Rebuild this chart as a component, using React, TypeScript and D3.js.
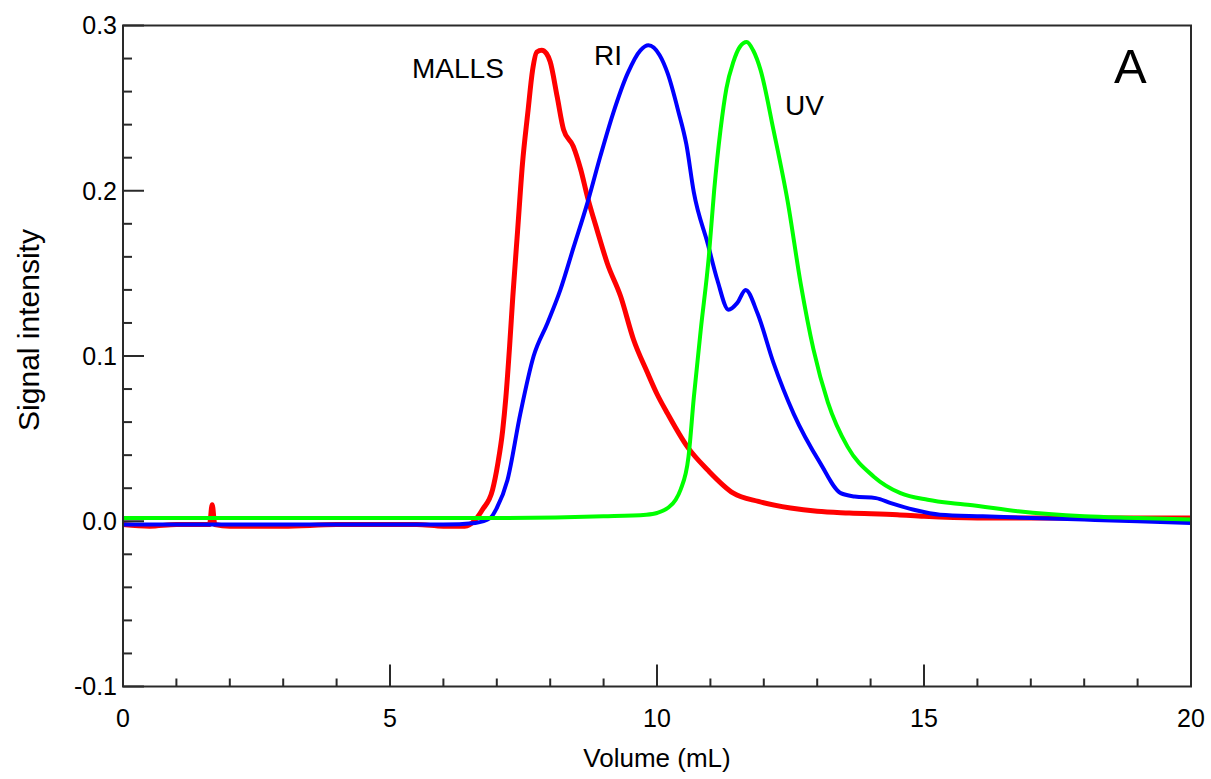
import React from "react";
import * as d3 from "d3";

// ---- data ----
const mallsX = [0, 0.5, 1.0, 1.5, 1.62, 1.67, 1.72, 2.0, 3.0, 4.0, 5.0, 5.5, 6.0, 6.4, 6.6, 6.73, 6.92, 7.02, 7.11, 7.17, 7.24, 7.3, 7.39, 7.48, 7.58, 7.67, 7.75, 7.84, 7.93, 8.0, 8.13, 8.25, 8.43, 8.57, 8.7, 8.88, 9.07, 9.32, 9.56, 9.82, 10.0, 10.2, 10.57, 10.95, 11.43, 11.9, 12.5, 13.0, 13.6, 14.5, 15.0, 16, 17, 18, 19, 20];
const mallsY = [-0.002, -0.003, -0.002, -0.002, -0.002, 0.010, -0.002, -0.003, -0.003, -0.002, -0.002, -0.002, -0.003, -0.003, 0.001, 0.007, 0.019, 0.035, 0.055, 0.075, 0.106, 0.136, 0.176, 0.216, 0.247, 0.273, 0.284, 0.285, 0.283, 0.278, 0.257, 0.237, 0.227, 0.213, 0.196, 0.176, 0.156, 0.136, 0.110, 0.090, 0.077, 0.065, 0.045, 0.031, 0.017, 0.012, 0.008, 0.006, 0.005, 0.004, 0.003, 0.002, 0.002, 0.002, 0.002, 0.002];

const riX = [0, 2, 4, 6, 6.6, 6.88, 7.0, 7.2, 7.44, 7.69, 7.95, 8.19, 8.44, 8.7, 8.94, 9.18, 9.45, 9.69, 9.84, 10.05, 10.2, 10.4, 10.55, 10.69, 10.95, 11.13, 11.34, 11.5, 11.66, 11.88, 12.18, 12.56, 13.06, 13.44, 13.7, 14.1, 14.38, 14.81, 15.3, 16.1, 17, 18, 19, 20];
const riY = [-0.002, -0.002, -0.002, -0.002, -0.001, 0.002, 0.008, 0.025, 0.065, 0.100, 0.120, 0.140, 0.166, 0.193, 0.221, 0.247, 0.271, 0.285, 0.288, 0.282, 0.271, 0.248, 0.228, 0.199, 0.168, 0.146, 0.128, 0.132, 0.140, 0.126, 0.096, 0.065, 0.035, 0.017, 0.015, 0.014, 0.011, 0.007, 0.004, 0.003, 0.002, 0.001, 0.000, -0.001];

const uvX = [0, 5, 7, 9, 9.8, 10.0, 10.2, 10.35, 10.44, 10.59, 10.69, 10.82, 10.97, 11.07, 11.19, 11.3, 11.43, 11.55, 11.68, 11.8, 11.94, 12.18, 12.45, 12.69, 12.93, 13.2, 13.57, 14.06, 14.56, 15.07, 15.5, 15.82, 16.76, 18.0, 19, 20];
const uvY = [0.002, 0.002, 0.002, 0.003, 0.004, 0.005, 0.008, 0.013, 0.019, 0.039, 0.075, 0.116, 0.160, 0.200, 0.237, 0.262, 0.278, 0.287, 0.290, 0.285, 0.273, 0.237, 0.193, 0.144, 0.104, 0.072, 0.045, 0.027, 0.017, 0.013, 0.011, 0.010, 0.006, 0.003, 0.002, 0.001];

const xMajorTicks = [0, 5, 10, 15, 20];
const yMajorTicks = [-0.1, 0.0, 0.1, 0.2, 0.3];
const yTickLabels = ["-0.1", "0.0", "0.1", "0.2", "0.3"];

const seriesNames = ["MALLS", "RI", "UV"];
const panelLabel = "A";
const xTitle = "Volume (mL)";
const yTitle = "Signal intensity";

export default function App() {
  const W = 1211, H = 779;
  const left = 123, right = 1191, top = 25.5, bottom = 686.5;
  const x = d3.scaleLinear().domain([0, 20]).range([left, right]);
  const y = d3.scaleLinear().domain([-0.1, 0.3]).range([bottom, top]);
  const line = d3
    .line<[number, number]>()
    .x((d) => x(d[0]))
    .y((d) => y(d[1]))
    .curve(d3.curveMonotoneX);

  const pts = (xs: number[], ys: number[]) => xs.map((v, i) => [v, ys[i]] as [number, number]);

  const xMinor = d3.range(0, 21, 1).filter((v) => v % 5 !== 0);
  const yMinor = d3.range(-5, 16, 1).map((k) => k * 0.02).filter((v) => Math.abs(Math.round(v * 10) - v * 10) > 1e-6);

  const font = "'Liberation Sans', Arial, sans-serif";
  const axisColor = "#2a2a2a";

  return (
    <svg width={W} height={H} style={{ position: "fixed", left: 0, top: 0, background: "#fff" }} fontFamily={font}>
      <rect x={0} y={0} width={W} height={H} fill="#fff" />
      <g>
        <path d={line(pts(mallsX, mallsY)) || ""} fill="none" stroke="#ff0000" strokeWidth={5} strokeLinejoin="round" />
        <path d={line(pts(riX, riY)) || ""} fill="none" stroke="#0000ff" strokeWidth={4} strokeLinejoin="round" />
        <path d={line(pts(uvX, uvY)) || ""} fill="none" stroke="#00ff00" strokeWidth={4} strokeLinejoin="round" />
      </g>
      {/* frame */}
      <rect x={left} y={top} width={right - left} height={bottom - top} fill="none" stroke={axisColor} strokeWidth={2} />
      {/* x ticks */}
      {xMajorTicks.map((v) => (
        <g key={"xM" + v}>
          <line x1={x(v)} x2={x(v)} y1={bottom} y2={bottom - 22} stroke={axisColor} strokeWidth={2} />
          <text x={x(v)} y={727} textAnchor="middle" fontSize={25} fill="#000">{v}</text>
        </g>
      ))}
      {xMinor.map((v) => (
        <line key={"xm" + v} x1={x(v)} x2={x(v)} y1={bottom} y2={bottom - 8} stroke={axisColor} strokeWidth={2} />
      ))}
      {/* y ticks */}
      {yMajorTicks.map((v, i) => (
        <g key={"yM" + v}>
          <line x1={left} x2={left + 21} y1={y(v)} y2={y(v)} stroke={axisColor} strokeWidth={2} />
          <text x={117} y={y(v)} dy="0.35em" textAnchor="end" fontSize={25} fill="#000">{yTickLabels[i]}</text>
        </g>
      ))}
      {yMinor.map((v) => (
        <line key={"ym" + v} x1={left} x2={left + 9} y1={y(v)} y2={y(v)} stroke={axisColor} strokeWidth={2} />
      ))}
      {/* titles */}
      <text x={657} y={767} textAnchor="middle" fontSize={26} fill="#000">{xTitle}</text>
      <text transform={`translate(39,330) rotate(-90)`} textAnchor="middle" fontSize={30} fill="#000">{yTitle}</text>
      {/* series labels */}
      <text x={412} y={78} fontSize={28} fill="#000">{seriesNames[0]}</text>
      <text x={594} y={65} fontSize={28} fill="#000">{seriesNames[1]}</text>
      <text x={785} y={115} fontSize={28} fill="#000">{seriesNames[2]}</text>
      <text x={1114} y={83} fontSize={49} fill="#000">{panelLabel}</text>
    </svg>
  );
}
